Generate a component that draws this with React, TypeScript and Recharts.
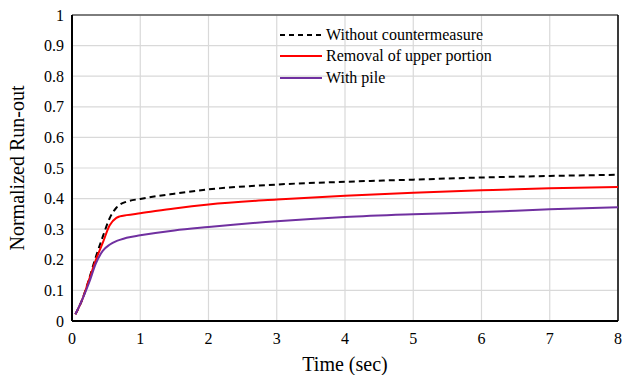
import { LineChart, Line, XAxis, YAxis, CartesianGrid, ReferenceLine } from 'recharts';

const FONT = "'Liberation Serif', 'DejaVu Serif', serif";

// time (sec)
const times = [0.05, 0.15, 0.25, 0.35, 0.45, 0.55, 0.65, 0.7, 0.8, 1, 1.5, 2, 3, 4, 5, 6, 7, 8];
const withoutCountermeasure = [0.022, 0.07, 0.137, 0.21, 0.275, 0.335, 0.37, 0.38, 0.39, 0.399, 0.416, 0.43, 0.446, 0.455, 0.462, 0.469, 0.474, 0.478];
const removalUpper = [0.022, 0.07, 0.135, 0.2, 0.255, 0.312, 0.337, 0.342, 0.346, 0.352, 0.368, 0.381, 0.397, 0.409, 0.419, 0.427, 0.434, 0.438];
const withPile = [0.022, 0.07, 0.125, 0.188, 0.229, 0.249, 0.261, 0.265, 0.272, 0.28, 0.296, 0.307, 0.326, 0.34, 0.349, 0.356, 0.365, 0.372];

const xTicks = [0, 1, 2, 3, 4, 5, 6, 7, 8];
const yTicks = [0, 0.1, 0.2, 0.3, 0.4, 0.5, 0.6, 0.7, 0.8, 0.9, 1];

const legendItems = [
  { name: 'Without countermeasure', color: '#000000', dash: '5 4' },
  { name: 'Removal of upper portion', color: '#ff0000', dash: undefined },
  { name: 'With pile', color: '#7030a0', dash: undefined },
];

const data = times.map((t, i) => ({
  t,
  a: withoutCountermeasure[i],
  b: removalUpper[i],
  c: withPile[i],
}));

const tickStyle = { fontSize: 16, fill: '#000', fontFamily: FONT, style: { fontFamily: FONT } };

function LegendBox() {
  return (
    <div style={{ position: 'absolute', left: 280, top: 24, color: '#000' }}>
      {legendItems.map((it) => (
        <div key={it.name} style={{ display: 'flex', alignItems: 'center', height: 21.5 }}>
          <svg width={44} height={10} style={{ marginRight: 2 }}>
            <line x1={0} y1={5} x2={42} y2={5} stroke={it.color} strokeWidth={2} strokeDasharray={it.dash} />
          </svg>
          <span style={{ fontFamily: FONT, fontSize: 16 }}>{it.name}</span>
        </div>
      ))}
    </div>
  );
}

export default function App() {
  return (
    <div style={{ position: 'absolute', left: 0, top: 0, width: 622, height: 375, background: '#fff', fontFamily: FONT }}>
      <LineChart width={622} height={375} data={data} margin={{ top: 15, right: 4, left: 0, bottom: 0 }} style={{ fontFamily: FONT }}>
        <CartesianGrid stroke="#d9d9d9" strokeWidth={1.2} verticalValues={xTicks} horizontalValues={yTicks} />
        <ReferenceLine y={1} stroke="#595959" strokeWidth={1.5} />
        <ReferenceLine x={8} stroke="#000" strokeWidth={1.5} />
        <XAxis
          dataKey="t"
          type="number"
          domain={[0, 8]}
          ticks={xTicks}
          interval={0}
          tickLine={false}
          axisLine={{ stroke: '#000', strokeWidth: 2 }}
          tick={tickStyle}
          tickMargin={6}
          height={54}
          label={{ value: 'Time (sec)', position: 'insideBottom', offset: 4, fontSize: 20, fill: '#000', fontFamily: FONT }}
        />
        <YAxis
          type="number"
          domain={[0, 1]}
          ticks={yTicks}
          interval={0}
          tickLine={false}
          axisLine={{ stroke: '#000', strokeWidth: 2 }}
          tick={tickStyle}
          tickFormatter={(v) => String(Number(v.toFixed(1)))}
          tickMargin={2}
          width={72}
          label={{ value: 'Normalized Run-out', angle: -90, position: 'insideLeft', offset: 17, fontSize: 20, fill: '#000', fontFamily: FONT, style: { textAnchor: 'middle' } }}
        />
        <Line type="monotone" dataKey="a" stroke="#000" strokeWidth={2} strokeDasharray="6 4" dot={false} isAnimationActive={false} />
        <Line type="monotone" dataKey="b" stroke="#ff0000" strokeWidth={2} dot={false} isAnimationActive={false} />
        <Line type="monotone" dataKey="c" stroke="#7030a0" strokeWidth={2} dot={false} isAnimationActive={false} />
      </LineChart>
      <LegendBox />
    </div>
  );
}
